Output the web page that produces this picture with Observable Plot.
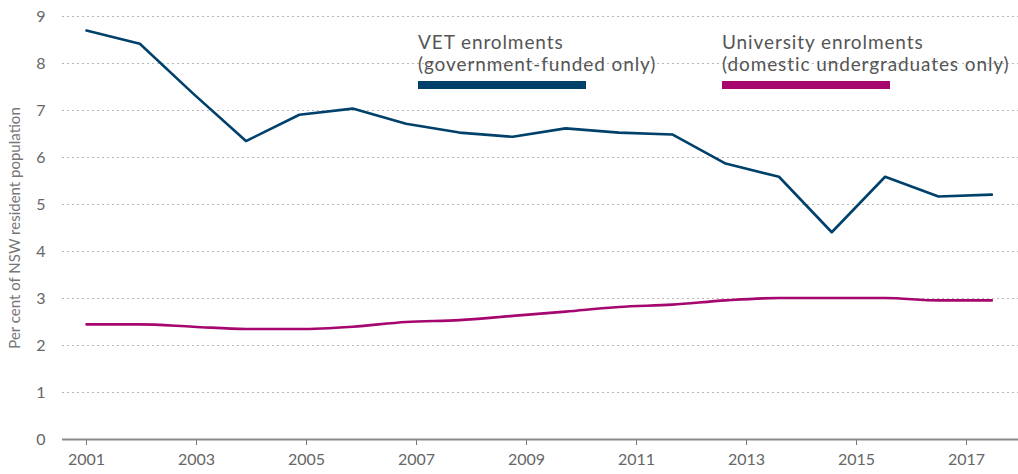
<!DOCTYPE html>
<html>
<head>
<meta charset="utf-8">
<script src="https://cdn.jsdelivr.net/npm/d3@7"></script>
<script src="https://cdn.jsdelivr.net/npm/@observablehq/plot@0.6"></script>
<style>
  html, body { margin: 0; padding: 0; background: #fff; }
  #wrap { position: relative; width: 1018px; height: 474px; font-family: Lato, "Open Sans", sans-serif; }
  .leg { position: absolute; color: #555; font-size: 19px; line-height: 22px; letter-spacing: 0.9px; }
  .leg .bar { width: 168px; height: 8px; margin-top: 6px; }
</style>
</head>
<body>
<div id="wrap"></div>
<script>
const years = [2001, 2001.97, 2002.94, 2003.90, 2004.87, 2005.84, 2006.81, 2007.78, 2008.75,
               2009.71, 2010.68, 2011.65, 2012.62, 2013.59, 2014.55, 2015.52, 2016.49, 2017.46];
// VET enrolments (government-funded only), per cent of NSW resident population
const vet = [8.70, 8.42, 7.36, 6.35, 6.91, 7.04, 6.72, 6.53, 6.44,
             6.62, 6.53, 6.49, 5.87, 5.59, 4.41, 5.59, 5.17, 5.21];
// University enrolments (domestic undergraduates only)
const uni = [2.45, 2.45, 2.40, 2.35, 2.35, 2.40, 2.50, 2.54, 2.63,
             2.72, 2.82, 2.87, 2.96, 3.01, 3.01, 3.01, 2.96, 2.96];
const xTicks = [2001, 2003, 2005, 2007, 2009, 2011, 2013, 2015, 2017];
const yTicks = [0, 1, 2, 3, 4, 5, 6, 7, 8, 9];
const seriesNames = ["VET enrolments\n(government-funded only)", "University enrolments\n(domestic undergraduates only)"];
const colors = ["#00416b", "#a5076f"];

const vetData = years.map((x, i) => ({x, y: vet[i]}));
const uniData = years.map((x, i) => ({x, y: uni[i]}));

const chart = Plot.plot({
  width: 1018,
  height: 474,
  marginLeft: 62,
  marginRight: 0,
  marginTop: 16,
  marginBottom: 35,
  style: {fontFamily: "Lato, 'Open Sans', sans-serif", fontSize: "16px", color: "#666", background: "#fff"},
  x: {type: "linear", domain: [2000.564, 2017.945]},
  y: {domain: [0, 9]},
  marks: [
    Plot.gridY(yTicks.filter(d => d > 0), {stroke: "#b8b8b8", strokeOpacity: 1, strokeDasharray: "2,3", strokeWidth: 1}),
    Plot.axisY(yTicks, {tickSize: 0, tickPadding: 17, tickFormat: d => String(d), fill: "#666", fontSize: 16,
      label: "Per cent of NSW resident population", labelAnchor: "center", labelArrow: "none", labelOffset: 53}),
    Plot.axisX(xTicks, {tickSize: 6, tickPadding: 8, tickFormat: d => String(d), stroke: "#777", fill: "#666", fontSize: 16, label: null}),
    Plot.ruleY([0], {stroke: "#8a8a8a", strokeWidth: 2}),
    Plot.line(vetData, {x: "x", y: "y", stroke: colors[0], strokeWidth: 2.6}),
    Plot.line(uniData, {x: "x", y: "y", stroke: colors[1], strokeWidth: 2.6, curve: "monotone-x"})
  ]
});
const wrap = document.getElementById("wrap");
wrap.appendChild(chart);
chart.querySelectorAll("[aria-label='y-axis label'] text").forEach(t => { t.setAttribute("font-size", "15"); t.setAttribute("fill", "#777"); });

const legPos = [{left: 418, top: 31}, {left: 722, top: 31}];
seriesNames.forEach((name, i) => {
  const d = document.createElement("div");
  d.className = "leg";
  d.style.left = legPos[i].left + "px";
  d.style.top = legPos[i].top + "px";
  d.innerHTML = name.split("\n").map(s => `<div>${s}</div>`).join("") + `<div class="bar" style="background:${colors[i]}"></div>`;
  wrap.appendChild(d);
});
</script>
</body>
</html>
